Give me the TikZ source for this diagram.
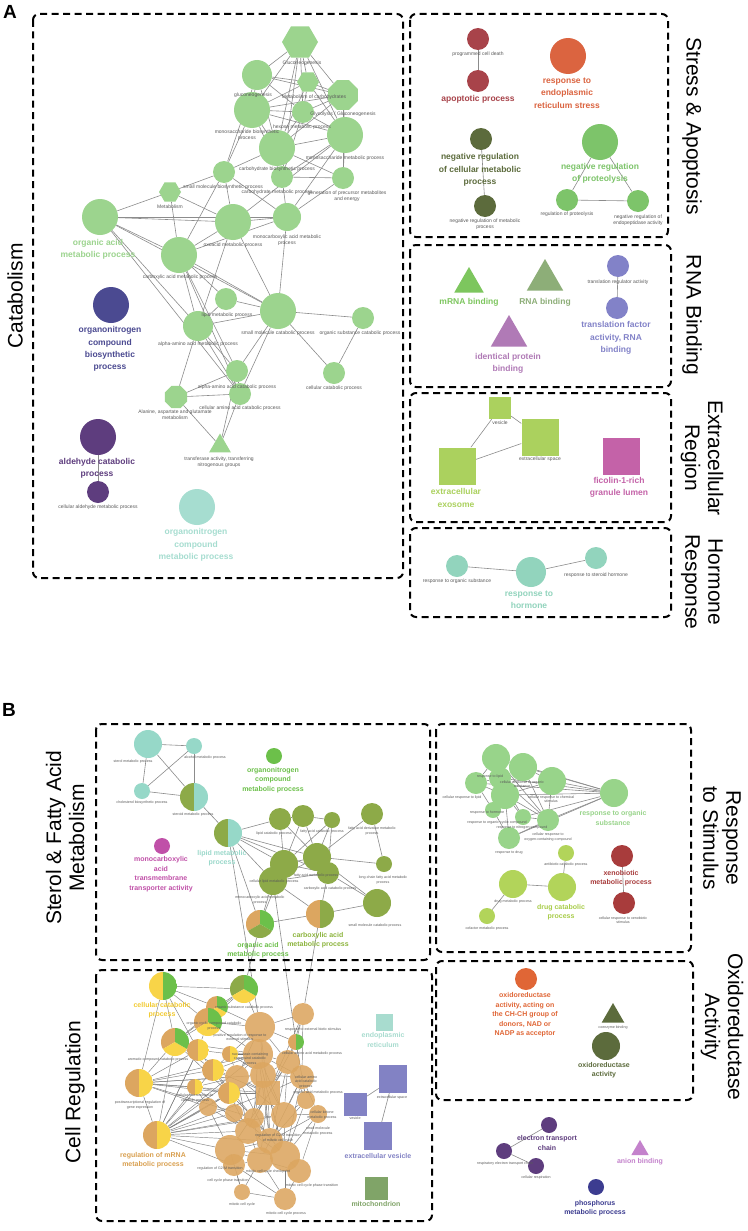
\documentclass[tikz,border=0pt]{standalone}
\usepackage{fontspec}
\setmainfont{Liberation Sans}
\usetikzlibrary{shapes.geometric,backgrounds}
\definecolor{catg}{HTML}{9CD48E}
\definecolor{onbio}{HTML}{4B4A91}
\definecolor{ald}{HTML}{5E3D7E}
\definecolor{onmet}{HTML}{A6DDD0}
\definecolor{apo}{HTML}{A8434A}
\definecolor{ers}{HTML}{DB6440}
\definecolor{nrc}{HTML}{5C6B3C}
\definecolor{prot}{HTML}{7DC46A}
\definecolor{mrna}{HTML}{7DC65E}
\definecolor{rnab}{HTML}{8DAE78}
\definecolor{idp}{HTML}{B07AB6}
\definecolor{trf}{HTML}{8282C8}
\definecolor{exo}{HTML}{ABD15E}
\definecolor{fic}{HTML}{C462A8}
\definecolor{hor}{HTML}{92D4BD}
\definecolor{stt}{HTML}{96D8C8}
\definecolor{olv}{HTML}{8DAA48}
\definecolor{grn}{HTML}{6CC04A}
\definecolor{mag}{HTML}{C050A8}
\definecolor{org}{HTML}{DCA660}
\definecolor{ylw}{HTML}{F8D448}
\definecolor{stim}{HTML}{98D48A}
\definecolor{lim}{HTML}{B2D45A}
\definecolor{xen}{HTML}{A83C3C}
\definecolor{oxo}{HTML}{E06636}
\definecolor{elc}{HTML}{5E3D7E}
\definecolor{ani}{HTML}{C482CC}
\definecolor{pho}{HTML}{3C3C90}
\definecolor{erq}{HTML}{A8DCCF}
\definecolor{evs}{HTML}{8282C4}
\definecolor{mit}{HTML}{80A468}
\definecolor{lblgray}{HTML}{5A5A5A}
\definecolor{edg}{HTML}{8C8C8C}
\definecolor{cbl}{HTML}{8CB43C}
\definecolor{lipl}{HTML}{9AD8CA}
\definecolor{ccl}{HTML}{F2CA30}
\definecolor{mrl}{HTML}{D9A050}
\definecolor{dcl}{HTML}{A8CC48}
\tikzset{
 grp/.style={draw=black, line width=2pt, dash pattern=on 7pt off 4.5pt, rounded corners=6pt},
 nd/.style={circle, fill=#1, inner sep=0pt, draw=none},
 ond/.style={circle, fill=org, fill opacity=0.88, inner sep=0pt, draw=none},
 sq/.style={rectangle, fill=#1, inner sep=0pt, draw=none},
 tri/.style={regular polygon, regular polygon sides=3, fill=#1, inner sep=0pt, draw=none},
 hexa/.style={regular polygon, regular polygon sides=6, fill=#1, inner sep=0pt, draw=none},
 octa/.style={regular polygon, regular polygon sides=8, fill=#1, inner sep=0pt, draw=none},
 pietwo/.style 2 args={circle, inner sep=0pt, path picture={
   \fill[#1] (path picture bounding box.south west) rectangle (path picture bounding box.north);
   \fill[#2] (path picture bounding box.south) rectangle (path picture bounding box.north east);}},
 piethree/.style n args={3}{circle, inner sep=0pt, path picture={
   \fill[#1] (path picture bounding box.center) -- ++(90:20pt) arc[start angle=90,end angle=210,radius=20pt] -- cycle;
   \fill[#2] (path picture bounding box.center) -- ++(210:20pt) arc[start angle=210,end angle=330,radius=20pt] -- cycle;
   \fill[#3] (path picture bounding box.center) -- ++(330:20pt) arc[start angle=330,end angle=450,radius=20pt] -- cycle;}},
 sml/.style={font=\fontsize{5}{5.8}\selectfont, text=lblgray, align=center, inner sep=0pt},
 ssl/.style={font=\fontsize{3.6}{4.3}\selectfont, text=lblgray, align=center, inner sep=0pt},
 bl/.style={font=\bfseries\fontsize{8.5}{12.3}\selectfont, text=#1, align=center, inner sep=0pt},
 bbl/.style={font=\bfseries\fontsize{7}{9.5}\selectfont, text=#1, align=center, inner sep=0pt},
 sidelbl/.style={font=\fontsize{21}{23}\selectfont, align=center, inner sep=0pt},
 panel/.style={font=\bfseries\fontsize{19}{20}\selectfont, inner sep=0pt},
 lnk/.style={draw=edg, line width=0.6pt},
 thn/.style={draw=edg!90!black, line width=0.45pt},
}
\begin{document}
\begin{tikzpicture}[x=1pt,y=-1pt]
\useasboundingbox (0,0) rectangle (747,1231);

% ================= PANEL A =================
\node[panel] (pA) at (10,12) {A};
\draw[grp] (33,14) rectangle (403,578);
\draw[grp] (410,14) rectangle (668,237);
\draw[grp] (410,245) rectangle (671,387);
\draw[grp] (410,393) rectangle (671,522);
\draw[grp] (410,528) rectangle (671,617);
\node[sidelbl, rotate=90] (tCat) at (15,296) {Catabolism};
\node[sidelbl, rotate=-90] (tStress) at (692,126) {Stress \& Apoptosis};
\node[sidelbl, rotate=-90] (tRNA) at (692,315) {RNA Binding};
\node[sidelbl, rotate=-90] (tExt) at (702,458) {Extracellular\\Region};
\node[sidelbl, rotate=-90] (tHor) at (702,582) {Hormone\\Response};

% Catabolism nodes
\node[hexa=catg, minimum size=36] (c1) at (300,42) {};
\node[nd=catg, minimum size=30] (c2) at (257,75) {};
\node[hexa=catg, minimum size=22] (c3) at (308,82) {};
\node[octa=catg, minimum size=32] (c4) at (343,95) {};
\node[nd=catg, minimum size=36] (c5) at (252,110) {};
\node[nd=catg, minimum size=22] (c6) at (303,112) {};
\node[nd=catg, minimum size=36] (c7) at (345,135) {};
\node[nd=catg, minimum size=36] (c8) at (277,148) {};
\node[nd=catg, minimum size=22] (c9) at (282,177) {};
\node[nd=catg, minimum size=22] (c10) at (224,172) {};
\node[nd=catg, minimum size=22] (c11) at (343,178) {};
\node[hexa=catg, minimum size=22] (c12) at (170,192) {};
\node[nd=catg, minimum size=36] (c13) at (100,217) {};
\node[nd=catg, minimum size=36] (c14) at (233,222) {};
\node[nd=catg, minimum size=28] (c15) at (287,217) {};
\node[nd=catg, minimum size=36] (c16) at (179,255) {};
\node[nd=catg, minimum size=22] (c17) at (226,299) {};
\node[nd=catg, minimum size=36] (c18) at (278,311) {};
\node[nd=catg, minimum size=30] (c19) at (198,326) {};
\node[nd=catg, minimum size=22] (c20) at (363,318) {};
\node[nd=catg, minimum size=22] (c21) at (237,371) {};
\node[nd=catg, minimum size=22] (c22) at (240,394) {};
\node[octa=catg, minimum size=24] (c23) at (176,397) {};
\node[nd=catg, minimum size=22] (c24) at (334,373) {};
\node[tri=catg, minimum size=25] (c25) at (220,446) {};
\node[nd=onbio, minimum size=36] (o1) at (111,305) {};
\node[nd=ald, minimum size=36] (o2) at (98,437) {};
\node[nd=ald, minimum size=22] (o3) at (98,492) {};
\node[nd=onmet, minimum size=36] (o4) at (197,507) {};

% Catabolism labels
\node[sml] (lc1) at (302,63) {Gluconeogenesis};
\node[sml] (lc2) at (253,95) {gluconeogenesis};
\node[sml] (lc4) at (314,97) {Metabolism of carbohydrates};
\node[sml] (lc6) at (343,114) {Glycolysis / Gluconeogenesis};
\node[sml] (lc7) at (345,158) {monosaccharide metabolic process};
\node[sml] (lc8) at (247,135) {monosaccharide biosynthetic\\process};
\node[sml] (lc8b) at (302,127) {hexose metabolic process};
\node[sml] (lc9) at (277,192) {carbohydrate metabolic process};
\node[sml] (lc10) at (277,169) {carbohydrate biosynthetic process};
\node[sml] (lc11) at (347,196) {generation of precursor metabolites\\and energy};
\node[sml] (lc12) at (170,207) {Metabolism};
\node[sml] (lc12b) at (223,187) {small molecule biosynthetic process};
\node[bl=catg] (lc13) at (98,249) {organic acid\\metabolic process};
\node[sml] (lc15) at (287,240) {monocarboxylic acid metabolic\\process};
\node[sml] (lc16) at (180,277) {carboxylic acid metabolic process};
\node[sml] (lc14) at (233,245) {oxoacid metabolic process};
\node[sml] (lc17) at (227,315) {lipid metabolic process};
\node[sml] (lc18) at (278,333) {small molecule catabolic process};
\node[sml] (lc19) at (198,344) {alpha-amino acid metabolic process};
\node[sml] (lc20) at (360,333) {organic substance catabolic process};
\node[sml] (lc21) at (237,387) {alpha-amino acid catabolic process};
\node[sml] (lc22) at (240,408) {cellular amino acid catabolic process};
\node[sml] (lc23) at (175,415) {Alanine, aspartate and glutamate\\metabolism};
\node[sml] (lc24) at (334,388) {cellular catabolic process};
\node[sml] (lc25) at (219,462) {transferase activity, transferring\\nitrogenous groups};
\node[bl=onbio] (lo1) at (110,349) {organonitrogen\\compound\\biosynthetic\\process};
\node[bl=ald] (lo2) at (97,468) {aldehyde catabolic\\process};
\node[sml] (lo3) at (98,507) {cellular aldehyde metabolic process};
\node[bl=onmet] (lo4) at (196,545) {organonitrogen\\compound\\metabolic process};

% Stress & Apoptosis
\node[nd=apo, minimum size=22] (a1) at (478,39) {};
\node[nd=apo, minimum size=22] (a2) at (478,81) {};
\node[nd=ers, minimum size=36] (a3) at (568,56) {};
\node[nd=nrc, minimum size=22] (a4) at (481,139) {};
\node[nd=nrc, minimum size=22] (a5) at (485,206) {};
\node[nd=prot, minimum size=36] (a6) at (600,142) {};
\node[nd=prot, minimum size=22] (a7) at (567,200) {};
\node[nd=prot, minimum size=22] (a8) at (638,201) {};
\node[sml] (la1) at (478,54) {programmed cell death};
\node[bl=apo] (la2) at (478,99) {apoptotic process};
\node[bl=ers] (la3) at (567,93) {response to\\endoplasmic\\reticulum stress};
\node[bl=nrc] (la4) at (480,170) {negative regulation\\of cellular metabolic\\process};
\node[sml] (la5) at (485,224) {negative regulation of metabolic\\process};
\node[bl=prot] (la6) at (600,173) {negative regulation\\of proteolysis};
\node[sml] (la7) at (567,214) {regulation of proteolysis};
\node[sml] (la8) at (638,220) {negative regulation of\\endopeptidase activity};

% RNA Binding
\node[tri=mrna, minimum size=34] (b1) at (469,284) {};
\node[tri=rnab, minimum size=42] (b2) at (545,280) {};
\node[tri=idp, minimum size=42] (b3) at (509,336) {};
\node[nd=trf, minimum size=22] (b4) at (618,266) {};
\node[nd=trf, minimum size=22] (b5) at (617,308) {};
\node[bl=mrna] (lb1) at (469,302) {mRNA binding};
\node[bl=rnab] (lb2) at (545,302) {RNA binding};
\node[bl=idp] (lb3) at (508,363) {identical protein\\binding};
\node[sml] (lb4) at (618,282) {translation regulator activity};
\node[bl=trf] (lb5) at (616,338) {translation factor\\activity, RNA\\binding};

% Extracellular Region
\node[sq=exo, minimum size=22] (x1) at (500,408) {};
\node[sq=exo, minimum size=37] (x2) at (540,437) {};
\node[sq=exo, minimum size=37] (x3) at (457,466) {};
\node[sq=fic, minimum size=37] (x4) at (621,456) {};
\node[sml] (lx1) at (500,423) {vesicle};
\node[sml] (lx2) at (540,459) {extracellular space};
\node[bl=exo] (lx3) at (456,498) {extracellular\\exosome};
\node[bl=fic] (lx4) at (619,487) {ficolin-1-rich\\granule lumen};

% Hormone Response
\node[nd=hor, minimum size=22] (h1) at (457,566) {};
\node[nd=hor, minimum size=30] (h2) at (531,572) {};
\node[nd=hor, minimum size=22] (h3) at (596,558) {};
\node[sml] (lh1) at (457,581) {response to organic substance};
\node[bl=hor] (lh2) at (529,600) {response to\\hormone};
\node[sml] (lh3) at (596,575) {response to steroid hormone};

% ================= PANEL B =================
\node[panel] (pB) at (9,710) {B};
\draw[grp] (96,724) rectangle (430,960);
\draw[grp] (96,970) rectangle (432,1221);
\draw[grp] (436,724) rectangle (691,952);
\draw[grp] (436,961) rectangle (693,1100);
\node[sidelbl, rotate=90] (tSterol) at (65,838) {Sterol \& Fatty Acid\\Metabolism};
\node[sidelbl, rotate=90] (tCell) at (75,1092) {Cell Regulation};
\node[sidelbl, rotate=-90] (tStim) at (722,838) {Response\\to Stimulus};
\node[sidelbl, rotate=-90] (tOx) at (722,1027) {Oxidoreductase\\Activity};

% Sterol & fatty acid
\node[nd=stt, minimum size=28] (s1) at (148,744) {};
\node[nd=stt, minimum size=16] (s2) at (194,746) {};
\node[nd=stt, minimum size=16] (s3) at (142,791) {};
\node[pietwo={olv}{stt}, minimum size=28] (s4) at (194,797) {};
\node[nd=grn, minimum size=16] (s5) at (274,756) {};
\node[nd=mag, minimum size=16] (s6) at (162,846) {};
\node[pietwo={olv}{stt}, minimum size=28] (s7) at (228,833) {};
\node[nd=olv, minimum size=22] (s8) at (280,819) {};
\node[nd=olv, minimum size=22] (s9) at (303,816) {};
\node[nd=olv, minimum size=16] (s10) at (332,820) {};
\node[nd=olv, minimum size=22] (s11) at (372,814) {};
\node[nd=olv, minimum size=28] (s12) at (284,864) {};
\node[nd=olv, minimum size=28] (s13) at (317,857) {};
\node[nd=olv, minimum size=22] (s14) at (328,873) {};
\node[nd=olv, minimum size=28] (s15) at (273,881) {};
\node[nd=olv, minimum size=16] (s16) at (384,864) {};
\node[nd=olv, minimum size=28] (s17) at (377,903) {};
\node[pietwo={org}{olv}, minimum size=28] (s18) at (320,914) {};
\node[piethree={org}{olv}{grn}, minimum size=28] (s19) at (260,924) {};
\node[ssl] (ls1) at (133,762) {sterol metabolic process};
\node[ssl] (ls2) at (205,758) {alcohol metabolic process};
\node[ssl] (ls3) at (142,803) {cholesterol biosynthetic process};
\node[ssl] (ls4) at (193,815) {steroid metabolic process};
\node[bbl=grn] (ls5) at (273,780) {organonitrogen\\compound\\metabolic process};
\node[bbl=mag] (ls6) at (161,874) {monocarboxylic\\acid\\transmembrane\\transporter activity};
\node[bbl=lipl] (ls7) at (222,858) {lipid metabolic\\process};
\node[ssl] (ls8) at (274,834) {lipid catabolic process};
\node[ssl] (ls9) at (322,832) {fatty acid catabolic process};
\node[ssl] (ls11) at (372,831) {fatty acid derivative metabolic\\process};
\node[ssl] (ls14) at (316,876) {fatty acid metabolic process};
\node[ssl] (ls15) at (274,882) {cellular lipid metabolic process};
\node[ssl] (ls16) at (383,880) {long-chain fatty acid metabolic\\process};
\node[ssl] (ls13) at (330,889) {carboxylic acid catabolic process};
\node[ssl] (ls12) at (260,900) {monocarboxylic acid metabolic\\process};
\node[ssl] (ls17) at (375,926) {small molecule catabolic process};
\node[bbl=cbl] (ls18) at (318,940) {carboxylic acid\\metabolic process};
\node[bbl=grn] (ls19) at (258,950) {organic acid\\metabolic process};

% Cell regulation
\node[pietwo={ylw}{grn}, minimum size=28] (r1) at (163,986) {};
\node[piethree={olv}{ylw}{grn}, minimum size=28] (r2) at (244,989) {};
\node[ond, minimum size=30] (r10) at (260,1027) {};
\node[ond, minimum size=22] (r11) at (303,1014) {};
\node[pietwo={org}{grn}, minimum size=16] (r12) at (296,1042) {};
\node[ond, minimum size=30] (r13) at (258,1054) {};
\node[ond, minimum size=24] (r14) at (288,1062) {};
\node[ond, minimum size=24] (r15) at (237,1077) {};
\node[ond, minimum size=26] (r16) at (263,1075) {};
\node[ond, minimum size=24] (r17) at (302,1077) {};
\node[sq=org, fill opacity=0.88, minimum size=24] (r19) at (268,1093) {};
\node[ond, minimum size=18] (r20) at (306,1100) {};
\node[ond, minimum size=18] (r22) at (208,1107) {};
\node[ond, minimum size=18] (r23) at (234,1113) {};
\node[ond, minimum size=20] (r24) at (254,1118) {};
\node[ond, minimum size=26] (r25) at (284,1115) {};
\node[ond, minimum size=18] (r26) at (318,1114) {};
\node[ond, minimum size=26] (r27) at (248,1131) {};
\node[ond, minimum size=26] (r28) at (270,1141) {};
\node[ond, minimum size=30] (r29) at (230,1150) {};
\node[ond, minimum size=26] (r30) at (260,1160) {};
\node[ond, minimum size=30] (r31) at (285,1156) {};
\node[ond, minimum size=24] (r32) at (299,1171) {};
\node[ond, minimum size=22] (r33) at (234,1165) {};
\node[ond, minimum size=16] (r34) at (242,1192) {};
\node[ond, minimum size=22] (r35) at (285,1199) {};
\node[piethree={org}{ylw}{grn}, minimum size=22] (r3) at (217,1007) {};
\node[piethree={org}{ylw}{grn}, minimum size=28] (r4) at (208,1022) {};
\node[piethree={org}{ylw}{grn}, minimum size=28] (r5) at (175,1042) {};
\node[pietwo={org}{ylw}, minimum size=22] (r6) at (198,1050) {};
\node[pietwo={org}{ylw}, minimum size=16] (r7) at (230,1054) {};
\node[pietwo={org}{ylw}, minimum size=22] (r36) at (213,1070) {};
\node[pietwo={org}{ylw}, minimum size=16] (r21) at (195,1087) {};
\node[pietwo={org}{ylw}, minimum size=22] (r18) at (229,1093) {};
\node[pietwo={org}{ylw}, minimum size=28] (r8) at (139,1083) {};
\node[pietwo={org}{ylw}, minimum size=28] (r9) at (157,1135) {};
\node[sq=erq, minimum size=17] (q1) at (384,1022) {};
\node[sq=evs, minimum size=28] (q2) at (393,1079) {};
\node[sq=evs, minimum size=23] (q3) at (355,1104) {};
\node[sq=evs, minimum size=28] (q4) at (378,1136) {};
\node[sq=mit, minimum size=23] (q5) at (376,1188) {};
\node[bbl=ccl] (lr1) at (162,1010) {cellular catabolic\\process};
\node[bbl=mrl] (lr9) at (153,1160) {regulation of mRNA\\metabolic process};
\node[ssl] (lr3) at (244,1008) {organic substance catabolic process};
\node[ssl] (lr4) at (214,1026) {organic cyclic compound catabolic\\process};
\node[ssl] (lr10) at (313,1030) {response to external biotic stimulus};
\node[ssl] (lr10b) at (240,1037) {positive regulation of response to\\external stimulus};
\node[ssl] (lr12) at (312,1054) {cellular amino acid metabolic process};
\node[ssl] (lr5) at (158,1060) {aromatic compound catabolic process};
\node[ssl] (lr13) at (250,1059) {nucleobase-containing\\compound catabolic\\process};
\node[ssl] (lr17) at (306,1082) {cellular amino\\acid catabolic\\process};
\node[ssl] (lr8) at (140,1105) {posttranscriptional regulation of\\gene expression};
\node[ssl] (lr22) at (195,1098) {cellular macromolecule\\catabolic process};
\node[ssl] (lr20) at (318,1093) {organic acid metabolic process};
\node[ssl] (lr26) at (322,1115) {cellular ketone\\metabolic process};
\node[ssl] (lr28) at (318,1131) {small molecule\\metabolic process};
\node[ssl] (lr27) at (278,1138) {regulation of G2/M transition\\of mitotic cell cycle};
\node[ssl] (lr29) at (220,1169) {regulation of G2/M transition};
\node[ssl] (lr31) at (268,1172) {mitotic cell cycle checkpoint};
\node[ssl] (lr32) at (312,1186) {mitotic cell cycle phase transition};
\node[ssl] (lr33) at (228,1181) {cell cycle phase transition};
\node[ssl] (lr34) at (242,1205) {mitotic cell cycle};
\node[ssl] (lr35) at (286,1214) {mitotic cell cycle process};
\node[bbl=erq] (lq1) at (383,1040) {endoplasmic\\reticulum};
\node[ssl] (lq2) at (392,1098) {extracellular space};
\node[ssl] (lq3) at (355,1118) {vesicle};
\node[bbl=evs] (lq4) at (378,1156) {extracellular vesicle};
\node[bbl=mit] (lq5) at (376,1204) {mitochondrion};

% Response to stimulus
\node[nd=stim, minimum size=28] (g1) at (496,758) {};
\node[nd=stim, minimum size=28] (g2) at (523,767) {};
\node[nd=stim, minimum size=22] (g3) at (476,783) {};
\node[nd=stim, minimum size=22] (g4) at (500,778) {};
\node[nd=stim, minimum size=28] (g5) at (505,795) {};
\node[nd=stim, minimum size=28] (g6) at (552,781) {};
\node[nd=stim, minimum size=16] (g7) at (493,810) {};
\node[nd=stim, minimum size=16] (g8) at (523,817) {};
\node[nd=stim, minimum size=22] (g9) at (548,820) {};
\node[nd=stim, minimum size=22] (g10) at (509,838) {};
\node[nd=stim, minimum size=28] (g11) at (614,793) {};
\node[ssl] (lg1) at (490,777) {response to lipid};
\node[ssl] (lg2) at (522,784) {cellular response to organic\\substance};
\node[ssl] (lg3) at (462,798) {cellular response to lipid};
\node[ssl] (lg6) at (551,799) {cellular response to chemical\\stimulus};
\node[ssl] (lg7) at (487,813) {response to hormone};
\node[ssl] (lg8) at (497,823) {response to organic cyclic compound};
\node[ssl] (lg9) at (522,828) {response to nitrogen compound};
\node[ssl] (lg10) at (548,837) {cellular response to\\oxygen-containing compound};
\node[ssl] (lg11) at (509,853) {response to drug};
\node[bbl=stim] (lg12) at (613,818) {response to organic\\substance};
\node[nd=lim, minimum size=16] (l1) at (566,853) {};
\node[nd=lim, minimum size=28] (l2) at (513,884) {};
\node[nd=lim, minimum size=28] (l3) at (562,887) {};
\node[nd=lim, minimum size=16] (l4) at (487,916) {};
\node[ssl] (ll1) at (566,865) {antibiotic catabolic process};
\node[ssl] (ll2) at (513,902) {drug metabolic process};
\node[bbl=dcl] (ll3) at (561,912) {drug catabolic\\process};
\node[ssl] (ll4) at (487,929) {cofactor metabolic process};
\node[nd=xen, minimum size=22] (xn1) at (622,856) {};
\node[nd=xen, minimum size=22] (xn2) at (624,903) {};
\node[bbl=xen] (lxn1) at (621,878) {xenobiotic\\metabolic process};
\node[ssl] (lxn2) at (623,920) {cellular response to xenobiotic\\stimulus};

% Oxidoreductase
\node[nd=oxo, minimum size=22] (ox1) at (526,979) {};
\node[tri=nrc, minimum size=26] (ox2) at (613,1016) {};
\node[nd=nrc, minimum size=28] (ox3) at (606,1046) {};
\node[bbl=oxo] (lox1) at (525,1015) {oxidoreductase\\activity, acting on\\the CH-CH group of\\donors, NAD or\\NADP as acceptor};
\node[ssl] (lox2) at (613,1028) {coenzyme binding};
\node[bbl=nrc] (lox3) at (604,1070) {oxidoreductase\\activity};

% bottom right
\node[nd=elc, minimum size=16] (e1) at (549,1125) {};
\node[nd=elc, minimum size=16] (e2) at (504,1151) {};
\node[nd=elc, minimum size=16] (e3) at (536,1166) {};
\node[bbl=elc] (le1) at (547,1143) {electron transport\\chain};
\node[ssl] (le2) at (505,1164) {respiratory electron transport chain};
\node[ssl] (le3) at (536,1178) {cellular respiration};
\node[tri=ani, minimum size=20] (an1) at (640,1150) {};
\node[bbl=ani] (lan1) at (640,1162) {anion binding};
\node[nd=pho, minimum size=16] (p1) at (596,1187) {};
\node[bbl=pho] (lp1) at (595,1208) {phosphorus\\metabolic process};

% ================= EDGES =================
\begin{pgfonlayer}{background}
\fill[white] (0,0) rectangle (747,1231);
\foreach \a/\b in {c1/c2,c1/c3,c1/c4,c1/c5,c1/c6,c1/c7,c1/c8,c1/c9,
 c2/c3,c2/c4,c2/c5,c2/c6,c2/c8,c2/c10,c3/c4,c3/c5,c3/c6,c3/c7,c3/c8,
 c4/c5,c4/c6,c4/c7,c4/c8,c4/c11,c5/c6,c5/c7,c5/c8,c5/c9,c5/c10,
 c6/c7,c6/c8,c6/c9,c7/c8,c7/c9,c7/c11,c7/c15,c8/c9,c8/c10,c8/c11,
 c9/c11,c9/c15,c10/c12,c10/c14,c10/c15,c10/c16,c12/c13,c12/c14,c12/c16,
 c13/c14,c13/c15,c13/c16,c13/c18,c13/c19,c13/c22,c14/c15,c14/c16,c14/c18,c14/c19,
 c15/c16,c15/c18,c16/c17,c16/c18,c16/c19,c16/c21,c16/c22,c17/c18,c17/c19,
 c18/c19,c18/c20,c18/c21,c18/c22,c18/c24,c19/c21,c19/c22,c19/c23,c20/c24,
 c21/c22,c21/c23,c21/c25,c22/c23,c22/c25,c23/c25,c11/c15,c7/c14,
 o2/o3,a1/a2,a4/a5,a6/a7,a6/a8,a7/a8,b4/b5,x1/x3,x1/x2,x2/x3,h1/h2,h2/h3,
 s1/s2,s1/s3,s1/s4,s2/s3,s2/s4,s3/s4,s4/s7,s7/s8,s7/s12,s7/s13,s7/s15,s7/s14,
 s8/s9,s8/s12,s8/s13,s9/s10,s9/s12,s9/s13,s10/s13,s10/s14,s10/s12,s11/s16,s11/s13,
 s12/s13,s12/s15,s12/s14,s13/s14,s13/s15,s13/s16,s13/s17,s14/s17,s14/s18,s15/s18,
 s15/s19,s12/s19,s18/s19,s17/s18,s14/s15,s7/s19,s19/r2,s18/r11,s15/r12,s7/r10,
 q2/q3,q2/q4,
 g11/g1,g11/g2,g11/g4,g11/g5,g11/g6,g11/g9,g11/g8,g11/g10,g11/g3,g1/g2,g1/g3,
 g1/g4,g1/g5,g2/g4,g2/g5,g2/g6,g2/g9,g3/g4,g3/g5,g3/g7,g4/g5,g4/g9,g5/g7,g5/g8,
 g5/g9,g5/g10,g6/g9,g8/g9,g7/g10,g9/g10,g5/g6,g4/g8,g1/g9,
 l1/l3,l2/l3,l2/l4,xn1/xn2,e1/e2,e2/e3}
 \draw[lnk] (\a) -- (\b);
\foreach \a/\b in {r1/r2,r1/r3,r1/r4,r1/r5,r1/r8,r2/r3,r2/r4,r2/r10,r2/r5,r3/r4,r3/r5,r3/r10,r4/r5,
 r4/r6,r4/r10,r4/r13,r5/r6,r5/r8,r5/r9,r5/r36,r5/r13,r6/r36,r6/r7,r6/r8,r6/r9,
 r7/r13,r7/r10,r7/r36,r8/r9,r8/r21,r8/r15,r8/r18,r8/r22,r8/r36,r8/r16,r9/r21,
 r9/r15,r9/r18,r9/r22,r9/r23,r9/r24,r9/r27,r9/r29,r9/r33,r9/r19,r9/r36,r9/r6,
 r8/r13,r8/r19,r8/r24,r9/r16,r9/r25,r9/r28,r9/r13,r5/r15,r5/r18,r1/r6,
 r10/r11,r10/r13,r10/r12,r10/r14,r11/r12,r11/r14,r12/r14,r12/r17,r13/r14,r13/r15,
 r13/r16,r13/r19,r13/r17,r14/r16,r14/r17,r14/r19,r14/r20,r15/r16,r15/r18,r15/r19,
 r15/r23,r16/r17,r16/r19,r16/r24,r16/r25,r17/r19,r17/r20,r17/r25,r17/r26,r18/r19,
 r18/r22,r18/r23,r19/r24,r19/r25,r19/r27,r19/r28,r20/r25,r20/r26,r21/r22,r21/r18,
 r22/r23,r23/r24,r23/r27,r24/r25,r24/r27,r24/r28,r25/r26,r25/r28,r25/r31,r26/r31,
 r27/r28,r27/r29,r27/r30,r28/r30,r28/r31,r29/r30,r29/r33,r30/r31,r31/r32,r30/r32,
 r33/r34,r29/r34,r30/r35,r32/r35,r34/r35,r31/r35,r33/r30,r29/r28,r36/r15,r36/r18,
 r36/r13,r16/r28,r15/r27,r14/r25,r13/r24,r12/r20,r11/r17,
 r10/r16,r10/r15,r10/r19,r13/r25,r13/r28,r14/r28,r14/r24,r15/r25,r15/r28,r16/r27,
 r16/r31,r17/r28,r17/r31,r19/r30,r19/r31,r19/r29,r23/r28,r24/r31,r24/r30,r25/r30,
 r27/r31,r20/r31,r20/r28,r26/r28,r22/r27,r22/r29,r18/r27,r18/r24,r7/r15,r7/r16,
 r36/r19,r36/r24,r21/r27,r21/r15,r29/r31,r33/r35,r34/r30,r26/r32,r12/r19,r11/r19}
 \draw[thn] (\a) -- (\b);
\end{pgfonlayer}
\end{tikzpicture}
\end{document}
